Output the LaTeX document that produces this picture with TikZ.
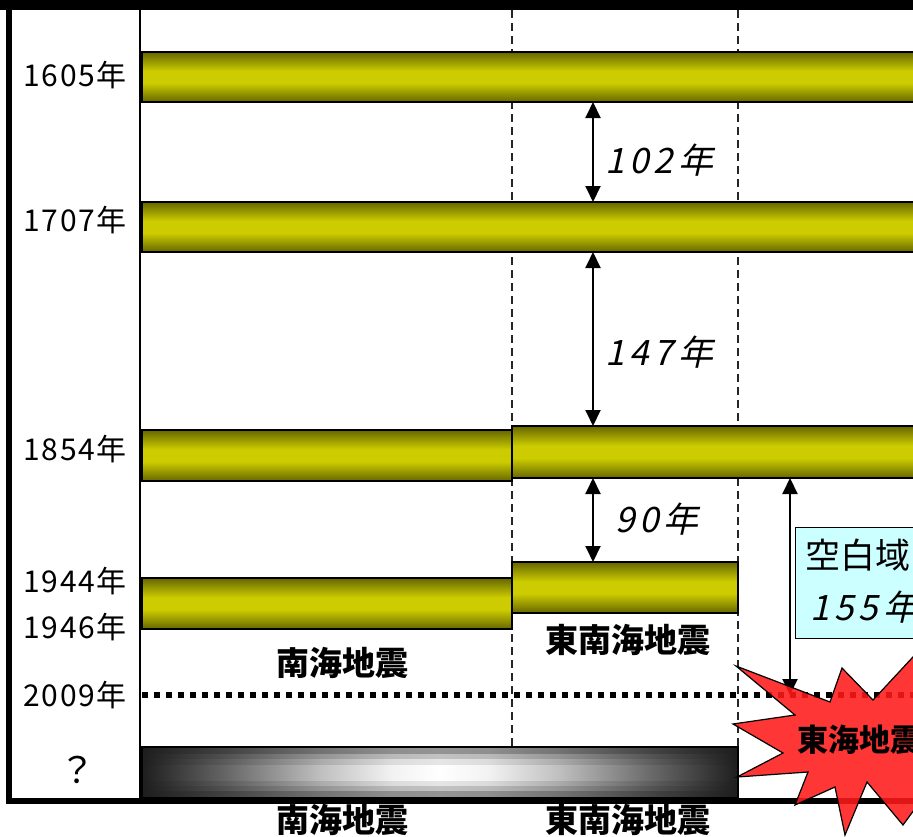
\documentclass[tikz,border=0pt]{standalone}
\usepackage{fontspec}
\setmainfont{Noto Sans CJK JP}
\newfontfamily\jpyr[LetterSpace=6]{Noto Sans CJK JP}
\newfontfamily\jpit[FakeSlant=0.22,LetterSpace=14]{Noto Sans CJK JP}
\usetikzlibrary{arrows.meta}
\definecolor{golddark}{HTML}{666600}
\definecolor{goldmid}{HTML}{CCCC00}
\definecolor{boxcyan}{HTML}{CCFFFF}
\definecolor{starred}{HTML}{FF1A1A}
\definecolor{gend}{HTML}{1E1E1E}
\pgfdeclareverticalshading{goldbar}{100bp}{color(0bp)=(golddark); color(25bp)=(golddark); color(44bp)=(goldmid); color(56bp)=(goldmid); color(75bp)=(golddark); color(100bp)=(golddark)}
\pgfdeclarehorizontalshading{grayW}{100bp}{color(0bp)=(gend); color(25bp)=(gend); color(32bp)=(black!60); color(40bp)=(black!25); color(46bp)=(black!5); color(50bp)=(white); color(54bp)=(black!5); color(60bp)=(black!25); color(68bp)=(black!60); color(75bp)=(gend); color(100bp)=(gend)}
\pgfdeclarehorizontalshading{grayC}{100bp}{color(0bp)=(gend); color(25bp)=(gend); color(32bp)=(black!64); color(40bp)=(black!33); color(46bp)=(black!14); color(50bp)=(black!10); color(54bp)=(black!14); color(60bp)=(black!33); color(68bp)=(black!64); color(75bp)=(gend); color(100bp)=(gend)}
\pgfdeclarehorizontalshading{grayB}{100bp}{color(0bp)=(gend); color(25bp)=(gend); color(32bp)=(black!68); color(40bp)=(black!42); color(46bp)=(black!27); color(50bp)=(black!24); color(54bp)=(black!27); color(60bp)=(black!42); color(68bp)=(black!68); color(75bp)=(gend); color(100bp)=(gend)}
\pgfdeclarehorizontalshading{grayA}{100bp}{color(0bp)=(gend); color(25bp)=(gend); color(32bp)=(black!74); color(40bp)=(black!55); color(46bp)=(black!44); color(50bp)=(black!42); color(54bp)=(black!44); color(60bp)=(black!55); color(68bp)=(black!74); color(75bp)=(gend); color(100bp)=(gend)}
\begin{document}
\begin{tikzpicture}[x=1pt,y=-1pt,
  bar/.style={rectangle, draw=black, line width=2.5pt, shade, shading=goldbar, inner sep=0pt, outer sep=0pt, anchor=north west},
  yr/.style={font=\jpyr\fontsize{30}{30}\selectfont, inner sep=0pt},
  gap/.style={font=\jpit\fontsize{35}{35}\selectfont, inner sep=0pt, anchor=west},
  quake/.style={font=\bfseries\fontsize{33}{33}\selectfont, inner sep=0pt},
  dbl/.style={line width=2pt, {Triangle[width=15pt,length=16pt]}-{Triangle[width=15pt,length=16pt]}},
  guide/.style={line width=1.5pt, black!85, dash pattern=on 8pt off 5pt}]
\useasboundingbox (0,0) rectangle (913,836);
\clip (0,0) rectangle (913,836);
% guides
\draw[guide] (512,10) -- (512,747);
\draw[guide] (738,10) -- (738,747);
% frame
\fill[black] (0,0) rectangle (913,10);
\draw[line width=6pt] (9,8) -- (9,800.5) -- (960,800.5);
\draw[line width=2pt] (140,10) -- (140,798);
% bars
\node[bar, minimum width=818pt, minimum height=50pt] (b1605) at (142,52) {};
\node[bar, minimum width=818pt, minimum height=50pt] (b1707) at (142,202) {};
\node[bar, minimum width=370pt, minimum height=51pt] (b1854n) at (142,430) {};
\node[bar, minimum width=448pt, minimum height=52pt] (b1854t) at (512,426) {};
\node[bar, minimum width=226pt, minimum height=51pt] (b1944) at (512,562) {};
\node[bar, minimum width=370pt, minimum height=51pt] (b1946) at (142,578) {};
% unknown future bar, banded grey
\node[rectangle, draw=black, line width=2.5pt, shade, shading=grayW, inner sep=0pt, outer sep=0pt, anchor=north west, minimum width=596pt, minimum height=51pt] (bq) at (142,747) {};
\shade[shading=grayA] (143.3,748.3) rectangle (736.7,754);
\shade[shading=grayB] (143.3,754) rectangle (736.7,759);
\shade[shading=grayC] (143.3,759) rectangle (736.7,764);
\shade[shading=grayC] (143.3,781) rectangle (736.7,786);
\shade[shading=grayB] (143.3,786) rectangle (736.7,791);
\shade[shading=grayA] (143.3,791) rectangle (736.7,796.7);
\draw[line width=2.5pt] (bq.north west) rectangle (bq.south east);
% 2009 line
\coordinate (d0) at (142,695);
\coordinate (d1) at (960,695);
\draw[line width=5.5pt, dash pattern=on 5.5pt off 6.5pt] (d0) -- (d1);
% arrows
\coordinate (ax) at (593,0);
\coordinate (bx) at (790,0);
\draw[dbl] (b1605.south -| ax) -- (b1707.north -| ax);
\draw[dbl] (b1707.south -| ax) -- (b1854t.north -| ax);
\draw[dbl] (b1854t.south -| ax) -- (b1944.north -| ax);
\draw[dbl] (b1854t.south -| bx) -- (d0 -| bx);
% gap labels
\node[gap] (g102) at (605,160) {102年};
\node[gap] (g147) at (605,352) {147年};
\node[gap] (g90) at (615,519) {90年};
% box
\node[draw=black, line width=1.2pt, fill=boxcyan, anchor=north west, minimum width=200pt, minimum height=111pt, inner sep=0pt] (box) at (795,527) {};
\node[font=\fontsize{35}{35}\selectfont, anchor=west, inner sep=0pt] (kuhaku) at (805,555) {空白域};
\node[gap] (g155) at (810,607) {155年};
% year labels
\node[yr] (y1605) at (75,75) {1605年};
\node[yr] (y1707) at (75,220) {1707年};
\node[yr] (y1854) at (75,449) {1854年};
\node[yr] (y1944) at (75,581) {1944年};
\node[yr] (y1946) at (75,627) {1946年};
\node[yr] (y2009) at (75,695) {2009年};
\node[font=\fontsize{36}{36}\selectfont, inner sep=0pt] (yq) at (77,770) {？};
% quake labels
\node[quake] (nk1) at (342,663) {南海地震};
\node[quake] (tn1) at (628,640) {東南海地震};
\node[quake] (nk2) at (342,820) {南海地震};
\node[quake] (tn2) at (628,820) {東南海地震};
% explosion
\filldraw[fill=starred, fill opacity=0.88, draw=black, line width=1.2pt]
  (736,666) -- (830,702) -- (842,668) -- (873,700) -- (925,644) -- (960,690)
  -- (1000,740) -- (960,790) -- (925,795) -- (903,825) -- (867,782) -- (845,835)
  -- (835,787) -- (795,805) -- (808,772) -- (737,777) -- (783,753) -- (733,724)
  -- (795,715) -- cycle;
\node[quake, anchor=west, font=\bfseries\fontsize{31}{31}\selectfont] (tokai) at (797,740) {東海地震};
\end{tikzpicture}
\end{document}
